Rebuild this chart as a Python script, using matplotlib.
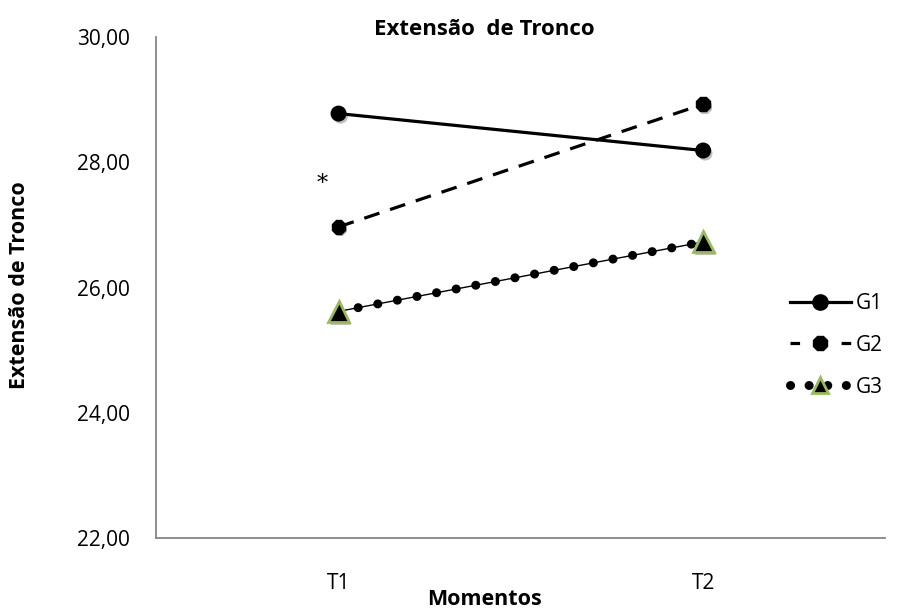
import matplotlib
matplotlib.use("Agg")
import matplotlib.pyplot as plt
import matplotlib.patheffects as pe
from matplotlib.lines import Line2D

# data
momentos = ["T1", "T2"]
g1 = [28.78, 28.19]
g2 = [26.97, 28.93]
g3 = [25.62, 26.73]
y_ticks = [22, 24, 26, 28, 30]

AXIS_GRAY = "#868686"
GREEN = "#9BBB59"
FONT = "Open Sans"

fig = plt.figure(figsize=(8.98, 6.10), dpi=100)
ax = fig.add_axes([0.174, 0.118, 0.812, 0.821])

x = list(range(len(momentos)))
shadow = [pe.SimplePatchShadow(offset=(1.5, -2), alpha=0.25), pe.Normal()]
dots = (0, (0.01, 2.2))

# G1 - solid line, round markers
ax.plot(x, g1, color="black", lw=2.3, solid_capstyle="butt", zorder=3)
ax.plot(x, g1, ls="none", marker="o", ms=10.5, color="black", zorder=4,
        path_effects=shadow)

# G2 - dashed line
ax.plot(x, g2, color="black", lw=2.3, ls=(0, (5, 3.5)), zorder=3)
ax.plot(x, g2, ls="none", marker="8", ms=10.5, color="black", zorder=4,
        path_effects=shadow)

# G3 - thin line with round dots, triangle markers
ax.plot(x, g3, color="black", lw=1.0, zorder=3)
ax.plot(x, g3, color="black", lw=6.5, ls=dots, dash_capstyle="round", zorder=3)
ax.plot(x, g3, ls="none", marker="^", ms=15, mfc="black", mec=GREEN,
        mew=2, zorder=4, path_effects=shadow)

ax.text(-0.045, 27.66, "*", fontsize=16, family="DejaVu Serif",
        ha="center", va="center")

ax.set_xlim(-0.5, 1.5)
ax.set_ylim(22, 30)
ax.set_xticks(x)
ax.set_xticklabels(momentos)
ax.set_yticks(y_ticks)
ax.set_yticklabels([f"{v:.2f}".replace(".", ",") for v in y_ticks])
ax.tick_params(length=0, labelsize=15)
ax.tick_params(axis="y", pad=19)
ax.tick_params(axis="x", pad=25)
for lab in ax.get_xticklabels() + ax.get_yticklabels():
    lab.set_family(FONT)

for side in ["top", "right"]:
    ax.spines[side].set_visible(False)
for side in ["left", "bottom"]:
    ax.spines[side].set_color(AXIS_GRAY)
    ax.spines[side].set_linewidth(1.3)

fig.text(0.539, 0.951, "Extensão  de Tronco", ha="center", va="center",
         fontsize=16, fontweight="bold", family=FONT)
fig.text(0.539, 0.017, "Momentos", ha="center", va="center",
         fontsize=15.5, fontweight="bold", family=FONT)
fig.text(0.022, 0.533, "Extensão de Tronco", ha="center", va="center",
         rotation=90, fontsize=15.5, fontweight="bold", family=FONT)

# legend
handles = [
    Line2D([], [], color="black", lw=2.3, marker="o", ms=11),
    Line2D([], [], color="black", lw=2.3, ls=(0, (3, 5)), marker="8", ms=11),
    Line2D([], [], color="black", lw=6.5, ls=(0, (0.01, 2.05)),
           dash_capstyle="round", marker="^", ms=12, mfc="black", mec=GREEN,
           mew=2),
]
leg = ax.legend(handles, ["G1", "G2", "G3"], loc="center left",
                bbox_to_anchor=(0.855, 0.385), frameon=False, handlelength=2.9,
                handletextpad=0.25, labelspacing=1.0, borderpad=0,
                prop={"family": FONT, "size": 15})

fig.savefig("out.png", dpi=100)
